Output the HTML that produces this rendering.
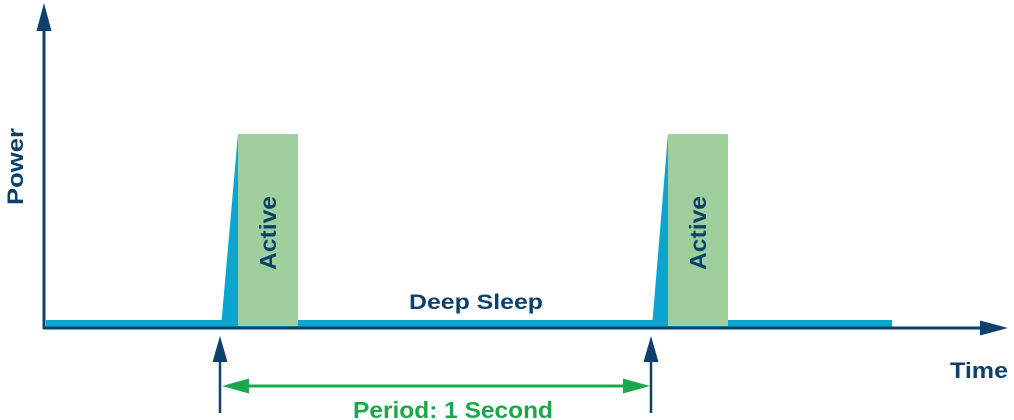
<!DOCTYPE html>
<html><head><style>html,body{margin:0;padding:0;background:#fff}svg{display:block}</style></head>
<body>
<svg width="1014" height="420" viewBox="0 0 1014 420" xmlns="http://www.w3.org/2000/svg" font-family="Liberation Sans, sans-serif" font-weight="bold">
<rect x="46" y="320" width="846" height="7" fill="#0aa6d0"/>
<polygon points="221,327 238,134 238,327" fill="#0aa6d0"/>
<polygon points="652,327 668,134 668,327" fill="#0aa6d0"/>
<rect x="238" y="134" width="60" height="192" fill="#9ecf9c"/>
<rect x="668" y="134" width="60" height="192" fill="#9ecf9c"/>
<line x1="44" y1="28" x2="44" y2="329" stroke="#0d416b" stroke-width="3"/>
<polygon points="44,3 36.5,31 51.5,31" fill="#0d416b"/>
<line x1="43" y1="328" x2="985" y2="328" stroke="#0d416b" stroke-width="3"/>
<polygon points="1008,328 980,320.5 980,335.5" fill="#0d416b"/>
<line x1="220" y1="358" x2="220" y2="413" stroke="#0d416b" stroke-width="2.5"/>
<polygon points="220,336 212.5,362 227.5,362" fill="#0d416b"/>
<line x1="651" y1="358" x2="651" y2="413" stroke="#0d416b" stroke-width="2.5"/>
<polygon points="651,336 643.5,362 658.5,362" fill="#0d416b"/>
<line x1="240" y1="386" x2="630" y2="386" stroke="#1aa84a" stroke-width="3"/>
<polygon points="222,386 249,378.5 249,393.5" fill="#1aa84a"/>
<polygon points="650,386 623,378.5 623,393.5" fill="#1aa84a"/>
<text x="409" y="309" font-size="21" fill="#0d416b" textLength="134" lengthAdjust="spacingAndGlyphs">Deep Sleep</text>
<text x="950" y="378" font-size="22" fill="#0d416b" textLength="58" lengthAdjust="spacingAndGlyphs">Time</text>
<text x="353" y="418" font-size="23" fill="#1aa84a" textLength="200" lengthAdjust="spacingAndGlyphs">Period: 1 Second</text>
<text transform="translate(276,270) rotate(-90)" font-size="23" fill="#0d416b" textLength="74" lengthAdjust="spacingAndGlyphs">Active</text>
<text transform="translate(706,270) rotate(-90)" font-size="23" fill="#0d416b" textLength="74" lengthAdjust="spacingAndGlyphs">Active</text>
<text transform="translate(23,205) rotate(-90)" font-size="22" fill="#0d416b" textLength="77" lengthAdjust="spacingAndGlyphs">Power</text>
</svg>
</body></html>
